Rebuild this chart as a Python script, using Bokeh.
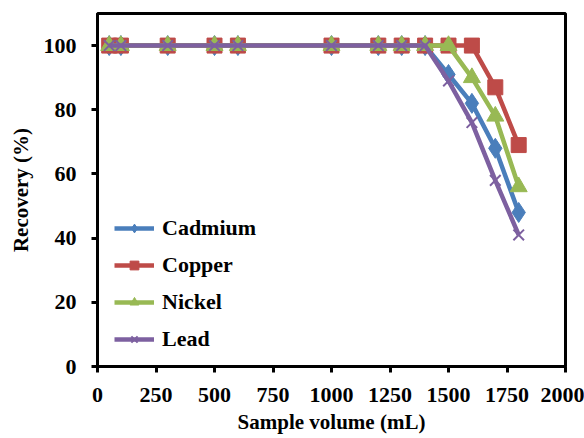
from bokeh.plotting import figure
from bokeh.embed import file_html
from bokeh.resources import INLINE
from bokeh.models import Range1d, FixedTicker, Legend, LegendItem

volume = [50, 100, 300, 500, 600, 1000, 1200, 1300, 1400, 1500, 1600, 1700, 1800]
cadmium = [100, 100, 100, 100, 100, 100, 100, 100, 100, 91, 82, 68, 48]
copper = [100, 100, 100, 100, 100, 100, 100, 100, 100, 100, 100, 87, 69]
nickel = [100, 100, 100, 100, 100, 100, 100, 100, 100, 100, 90, 78, 56]
lead = [100, 100, 100, 100, 100, 100, 100, 100, 100, 89, 76, 58, 41]

x_ticks = [0, 250, 500, 750, 1000, 1250, 1500, 1750, 2000]
y_ticks = [0, 20, 40, 60, 80, 100]

FONT = "Liberation Serif"

p = figure(width=584, height=438, output_backend="svg", toolbar_location=None,
           x_range=Range1d(0, 2000), y_range=Range1d(0, 110),
           min_border_left=97, min_border_right=19, min_border_top=13, min_border_bottom=72)
p.grid.visible = False
p.outline_line_color = "black"
p.outline_line_width = 3
p.background_fill_color = "white"
p.border_fill_color = "white"

for ax in (p.xaxis[0], p.yaxis[0]):
    ax.axis_line_width = 3
    ax.axis_line_color = "black"
    ax.major_tick_line_width = 3
    ax.major_tick_line_color = "black"
    ax.major_tick_out = 6
    ax.major_tick_in = 0
    ax.minor_tick_line_color = None
    ax.major_label_text_font = FONT
    ax.major_label_text_font_style = "bold"
    ax.major_label_text_font_size = "22px"
    ax.major_label_text_color = "black"
    ax.axis_label_text_font = FONT
    ax.axis_label_text_font_style = "bold"
    ax.axis_label_text_font_size = "21px"
    ax.axis_label_text_color = "black"

p.xaxis.ticker = FixedTicker(ticks=x_ticks)
p.yaxis.ticker = FixedTicker(ticks=y_ticks)
p.xaxis.axis_label = "Sample volume (mL)"
p.yaxis.axis_label = "Recovery (%)"
p.xaxis.major_label_standoff = 15
p.yaxis.major_label_standoff = 15
p.xaxis.axis_label_standoff = 5
p.yaxis.axis_label_standoff = 8

series = [
    ("Cadmium", cadmium, "#4A7EBB", "diamond", 20),
    ("Copper", copper, "#BE4B48", "square", 15),
    ("Nickel", nickel, "#98B954", "triangle", 17),
    ("Lead", lead, "#7D60A0", "x", 15),
]

items = []
for name, ys, color, marker, size in series:
    ln = p.line(volume, ys, line_color=color, line_width=4.5)
    if marker == "x":
        mk = p.scatter(volume, ys, marker="x", size=size, line_color=color, line_width=2)
    else:
        mk = p.scatter(volume, ys, marker=marker, size=size, fill_color=color, line_color=color)
    items.append(LegendItem(label=name, renderers=[ln, mk]))

legend = Legend(items=items, location=(17, 14), orientation="vertical")
legend.label_text_font = FONT
legend.label_text_font_style = "bold"
legend.label_text_font_size = "22px"
legend.label_text_color = "black"
legend.glyph_width = 40
legend.glyph_height = 22
legend.label_height = 22
legend.spacing = 11
legend.label_standoff = 8
legend.padding = 4
legend.border_line_color = None
legend.background_fill_alpha = 0
p.add_layout(legend)

open("out.html", "w").write(file_html(p, INLINE))
